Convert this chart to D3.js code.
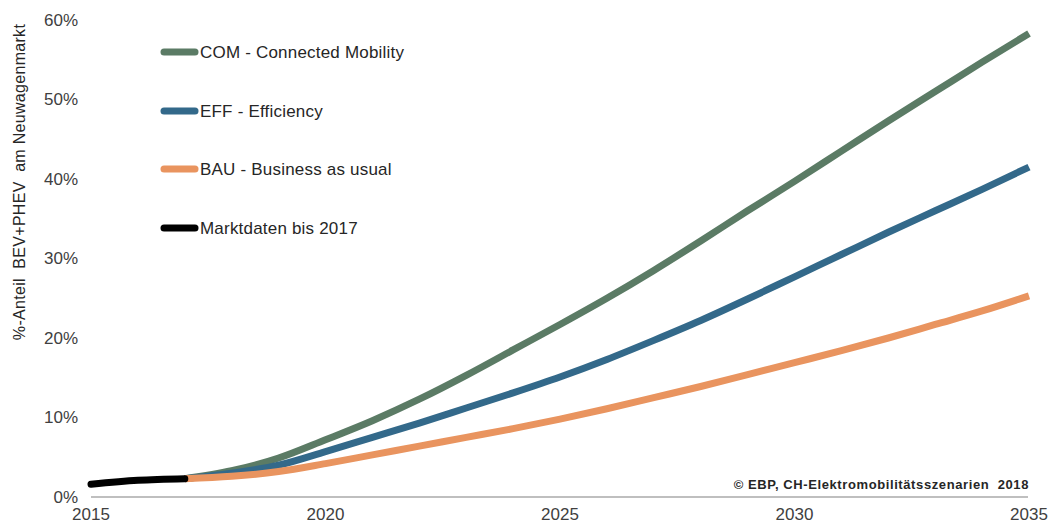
<!DOCTYPE html>
<html><head><meta charset="utf-8">
<script src="https://cdn.jsdelivr.net/npm/d3@7"></script>
<style>body{margin:0;background:#fff}svg{display:block}text{font-family:"Liberation Sans",Arial,sans-serif}</style>
</head><body><svg id="c" width="1050" height="524"></svg>
<script>
const marketYears = [2015, 2016, 2017];
const marketValues = [1.6, 2.1, 2.3];
const scenarioYears = [2017,2018,2019,2020,2021,2022,2023,2024,2025,2026,2027,2028,2029,2030,2031,2032,2033,2034,2035];
const comValues = [2.3,3.3,4.9,7.2,9.6,12.3,15.3,18.5,21.7,25.0,28.5,32.2,36.0,39.7,43.5,47.3,51.0,54.7,58.3];
const effValues = [2.3,3.0,4.0,5.7,7.5,9.3,11.2,13.1,15.1,17.3,19.7,22.2,24.9,27.7,30.5,33.3,36.0,38.7,41.5];
const bauValues = [2.3,2.6,3.2,4.2,5.3,6.4,7.5,8.6,9.8,11.1,12.5,13.9,15.4,16.9,18.4,20.0,21.7,23.4,25.3];
const seriesNames = ["COM - Connected Mobility","EFF - Efficiency","BAU - Business as usual","Marktdaten bis 2017"];
const seriesColors = ["#5b7b65","#33698a","#e9945f","#000000"];
const xTicks = [2015,2020,2025,2030,2035];
const yTicks = [0,10,20,30,40,50,60];
const yTitle = "%-Anteil  BEV+PHEV  am Neuwagenmarkt";
const credit = "© EBP, CH-Elektromobilitätsszenarien  2018";

const svg = d3.select("#c");
const x = d3.scaleLinear().domain([2015,2035]).range([91,1029]);
const y = d3.scaleLinear().domain([0,60]).range([497,20]);

// axis line
svg.append("line").attr("x1",x(2015)).attr("x2",x(2035)-1).attr("y1",y(0)).attr("y2",y(0))
  .attr("stroke","#bfbfbf").attr("stroke-width",2);

// y tick labels
svg.append("g").selectAll("text").data(yTicks).join("text")
  .attr("x",78).attr("y",d=>y(d)).attr("dy","0.35em").attr("text-anchor","end")
  .attr("font-size",17).attr("fill","#404040").text(d=>d+"%");
// x tick labels
svg.append("g").selectAll("text").data(xTicks).join("text")
  .attr("x",d=>x(d)).attr("y",520).attr("text-anchor","middle")
  .attr("font-size",17).attr("fill","#404040").text(d=>d);

// y title
svg.append("text").attr("transform","translate(25,182) rotate(-90)").attr("text-anchor","middle")
  .attr("font-size",16).attr("letter-spacing",0.3).attr("fill","#262626").style("white-space","pre").text(yTitle);

const line = d3.line().x(d=>x(d[0])).y(d=>y(d[1])).curve(d3.curveMonotoneX);
const scen = [comValues, effValues, bauValues];
scen.forEach((vals,i)=>{
  svg.append("path").datum(scenarioYears.map((yr,j)=>[yr,vals[j]]))
    .attr("d",line).attr("fill","none").attr("stroke",seriesColors[i])
    .attr("stroke-width",7).attr("stroke-linecap","butt").attr("stroke-linejoin","round");
});
svg.append("path").datum(marketYears.map((yr,j)=>[yr,marketValues[j]]))
  .attr("d",line).attr("fill","none").attr("stroke",seriesColors[3])
  .attr("stroke-width",7).attr("stroke-linecap","round").attr("stroke-linejoin","round");

// legend
const leg = svg.append("g").selectAll("g").data(seriesNames).join("g")
  .attr("transform",(d,i)=>`translate(0,${[52,111,169,228][i]})`);
leg.append("line").attr("x1",164).attr("x2",195).attr("y1",0).attr("y2",0)
  .attr("stroke",(d,i)=>seriesColors[i]).attr("stroke-width",7).attr("stroke-linecap","round");
leg.append("text").attr("x",200).attr("y",0).attr("dy","0.35em").attr("font-size",17)
  .attr("letter-spacing",0.2).attr("fill","#262626").text(d=>d);

// credit
svg.append("text").attr("x",1029).attr("y",489).attr("text-anchor","end")
  .attr("font-size",13).attr("letter-spacing",0.6).attr("font-weight","bold").attr("fill","#262626")
  .style("white-space","pre").text(credit);
</script></body></html>
